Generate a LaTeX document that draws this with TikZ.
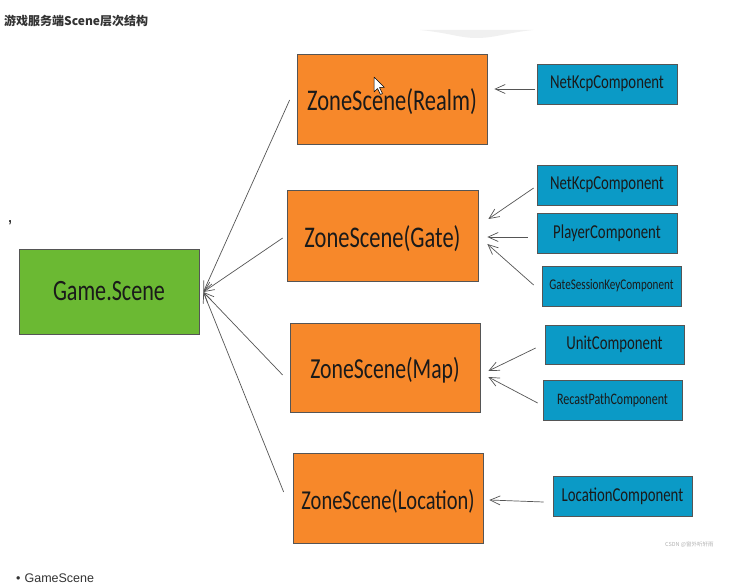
\documentclass[tikz,border=0pt]{standalone}
\usepackage{fontspec}
\setmainfont{Liberation Sans}
\newfontfamily\hand[FakeStretch=0.75]{Carlito}
\newfontfamily\cjk{Noto Sans CJK SC}
\usetikzlibrary{arrows.meta}
\newcommand{\zlow}[1]{\raisebox{-3pt}[\height][\depth]{#1}}
\definecolor{zoneorange}{HTML}{F7882A}
\definecolor{gamegreen}{HTML}{6BB933}
\definecolor{compblue}{HTML}{0B9AC6}
\definecolor{boxline}{HTML}{555555}
\definecolor{arrowgray}{HTML}{555555}
\definecolor{ink}{HTML}{1A1A1A}
\definecolor{titlegray}{HTML}{333333}
\tikzset{
  box/.style={draw=boxline, line width=0.7pt, inner sep=0pt, text=ink},
  zone/.style={box, fill=zoneorange, minimum width=190pt, minimum height=90pt,
    font=\hand\fontsize{30}{34}\selectfont},
  game/.style={box, fill=gamegreen, minimum width=180pt, minimum height=85pt,
    font=\hand\fontsize{29.5}{33}\selectfont},
  comp/.style={box, fill=compblue, minimum width=140pt, minimum height=40pt,
    font=\hand\fontsize{19.7}{22}\selectfont},
  arr/.style={draw=arrowgray, line width=0.7pt, -{Straight Barb[length=10pt,width=9pt]}},
}
\begin{document}
\begin{tikzpicture}[x=1pt,y=-1pt]
\useasboundingbox (0,0) rectangle (731,585);
\fill[white] (0,0) rectangle (731,585);
% faint shadow at top
\fill[black!6] (420,30) .. controls (450,33) and (460,38) .. (476,38) .. controls (495,38) and (505,33) .. (533,30) -- cycle;
% title
\node[anchor=west, inner sep=0pt, text=titlegray, font=\cjk\bfseries\fontsize{12}{14}\selectfont] (title) at (4,21) {游戏服务端Scene层次结构};
\node[inner sep=0pt, text=ink, font=\fontsize{18}{20}\selectfont] (comma) at (10,223) {,};
% main boxes
\node[game] (game) at (109,291.5) {Game.Scene};
\node[zone, minimum width=190pt, minimum height=90pt] (realm) at (392,99) {\zlow{ZoneScene(Realm)}};
\node[zone, minimum width=191pt, minimum height=91pt] (gate) at (382.5,235.5) {\zlow{ZoneScene(Gate)}};
\node[zone, minimum width=190pt, minimum height=89pt, font=\hand\fontsize{29}{33}\selectfont] (map) at (385,367.5) {\zlow{ZoneScene(Map)}};
\node[zone, minimum width=190pt, minimum height=90pt, font=\hand\fontsize{27.3}{31}\selectfont] (loc) at (388,498) {\zlow{ZoneScene(Location)}};
% components
\node[comp] (nk1) at (607,84) {NetKcpComponent};
\node[comp] (nk2) at (607,185) {NetKcpComponent};
\node[comp] (player) at (607,233) {PlayerComponent};
\node[comp, minimum width=139pt, font=\hand\fontsize{14.8}{17}\selectfont] (gsk) at (611.5,286) {GateSessionKeyComponent};
\node[comp, minimum width=139pt, minimum height=39pt] (unit) at (614.5,344.5) {UnitComponent};
\node[comp, minimum width=139pt, font=\hand\fontsize{16}{18}\selectfont] (recast) at (612.5,400) {RecastPathComponent};
\node[comp, minimum width=139pt] (lcomp) at (622.5,496) {LocationComponent};
% component arrows
\draw[arr] ([xshift=-2pt,yshift=-5pt]nk1.west) -- ([xshift=7pt,yshift=10pt]realm.east);
\draw[arr] ([xshift=-3pt,yshift=-3pt]nk2.west) -- ([xshift=10pt,yshift=16.5pt]gate.east);
\draw[arr] ([xshift=-9pt,yshift=-4pt]player.west) -- ([xshift=9pt,yshift=-1.5pt]gate.east);
\draw[arr] ([xshift=-8pt,yshift=1pt]gsk.west) -- ([xshift=9pt,yshift=-8.5pt]gate.east);
\draw[arr] ([xshift=-9pt,yshift=-3.5pt]unit.west) -- ([xshift=8pt,yshift=-3.5pt]map.east);
\draw[arr] ([xshift=-5pt,yshift=-3pt]recast.west) -- ([xshift=8pt,yshift=-9.5pt]map.east);
\draw[arr] ([xshift=-9pt,yshift=-6pt]lcomp.west) -- ([xshift=6pt,yshift=-2pt]loc.east);
% zone arrows to game
\coordinate (gtip) at ([xshift=4pt,yshift=-0.5pt]game.east);
\draw[arr] ([xshift=-7pt,yshift=-1pt]realm.west) -- (gtip);
\draw[arr] ([xshift=-4pt,yshift=-2.5pt]gate.west) -- (gtip);
\draw[arr] ([xshift=-7pt,yshift=-7.5pt]map.west) -- (gtip);
\draw[arr] ([xshift=-9pt,yshift=6pt]loc.west) -- (gtip);
% mouse cursor
\draw[black, fill=white, line width=0.5pt, line join=round] (374,77) -- (374,92) -- (377.5,88.5) -- (380.5,94.5) -- (382.5,93.5) -- (379.5,87.5) -- (384.5,87.5) -- cycle;
% watermark
\node[anchor=west, inner sep=0pt, text=black!30, font=\cjk\fontsize{5.5}{6}\selectfont] (wm) at (665,545) {CSDN @窗外听轩雨};
% bottom bullet text
\node[anchor=base west, inner sep=0pt, text=titlegray, font=\fontsize{12.5}{14}\selectfont] (bullet) at (16,582) {\textbullet\hspace{4pt}GameScene};
\end{tikzpicture}
\end{document}
